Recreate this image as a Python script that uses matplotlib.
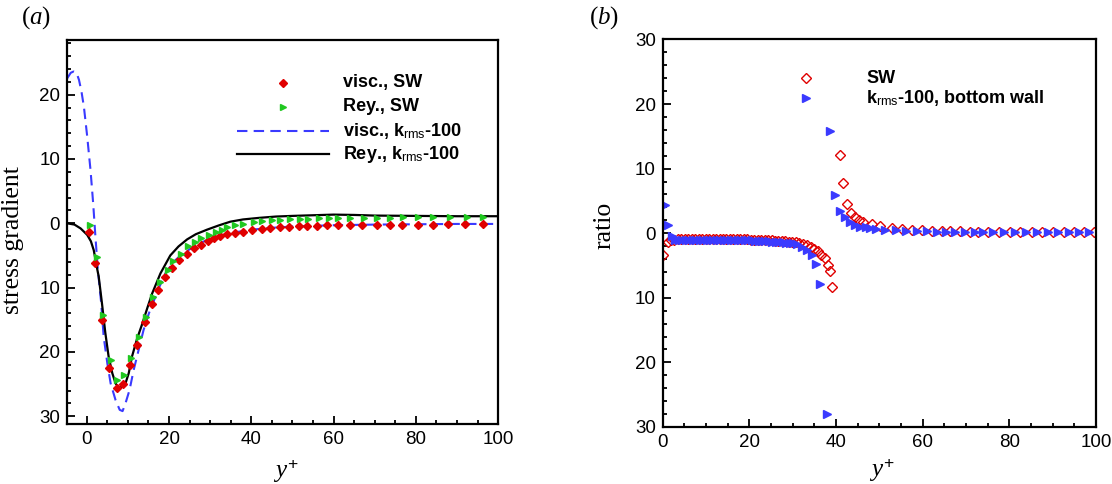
#!/usr/bin/env python3
import matplotlib
matplotlib.use("Agg")
import matplotlib.pyplot as plt
from matplotlib.ticker import MultipleLocator, FuncFormatter

plt.rcParams["font.family"] = ["Liberation Sans", "DejaVu Sans"]
plt.rcParams["mathtext.fontset"] = "custom"
plt.rcParams["mathtext.rm"] = "Liberation Sans"
plt.rcParams["mathtext.it"] = "Liberation Serif:italic"
plt.rcParams["mathtext.bf"] = "Liberation Sans:bold"

RED = "#e00000"
GREEN = "#20c820"
BLUE = "#3a3aff"

# ---- panel (a): stress gradient ----
visc_sw_x = [0.5, 1.9, 3.7, 5.5, 7.3, 8.8, 10.5, 12.3, 14.1, 15.8, 17.3, 19.1, 20.6,
             22.5, 24.3, 26.0, 27.7, 29.4, 31.0, 32.5, 34.1, 36.1, 38.1, 40.2, 42.6,
             44.6, 46.9, 49.1, 51.5, 53.5, 55.9, 58.4, 61.2, 64.0, 66.9, 70.5, 73.8,
             76.6, 80.6, 84.3, 87.9, 92.0, 96.4]
visc_sw_y = [-1.3, -6.2, -15.0, -22.5, -25.6, -25.0, -22.0, -18.9, -15.3, -12.6, -10.4,
             -8.3, -6.9, -5.7, -4.7, -3.9, -3.3, -2.75, -2.3, -2.0, -1.7, -1.5, -1.3,
             -1.05, -0.9, -0.75, -0.62, -0.52, -0.45, -0.4, -0.35, -0.32, -0.3, -0.28,
             -0.27, -0.26, -0.25, -0.24, -0.23, -0.2, -0.18, -0.15, -0.12]

rey_sw_x = [0.7, 2.4, 4.0, 5.8, 7.4, 9.0, 10.7, 12.6, 14.5, 16.0, 17.7, 19.7, 21.0,
            22.8, 24.5, 26.2, 27.8, 29.6, 31.3, 32.9, 34.1, 36.1, 38.1, 40.6, 42.6,
            45.0, 47.0, 49.5, 51.9, 53.9, 56.4, 58.8, 61.2, 64.1, 67.3, 70.5, 73.8,
            77.0, 80.6, 84.3, 88.3, 92.4, 96.4]
rey_sw_y = [-0.3, -5.2, -14.3, -21.3, -24.4, -23.6, -21.0, -17.6, -14.5, -11.5, -9.2,
            -7.3, -5.8, -4.7, -3.5, -2.9, -2.3, -1.8, -1.4, -1.0, -0.6, -0.3, -0.05,
            0.2, 0.35, 0.45, 0.55, 0.62, 0.68, 0.73, 0.78, 0.82, 0.86, 0.88, 0.9, 0.9,
            0.9, 0.92, 0.95, 0.97, 0.98, 1.0, 1.0]

visc_k_x = [-4.8, -3.9, -3.2, -2.5, -1.9, -1.3, -0.7, 0.1, 0.9, 1.55, 2.1, 2.7, 3.5,
            4.1, 5.0, 5.8, 7.0, 8.0, 8.7, 9.4, 10.4, 11.4, 12.6, 13.8, 15.1, 16.7,
            17.5, 19.1, 21.1, 22.8, 24.4, 26.5, 29.2, 32.0, 35.0, 40.0, 45.0, 50.0,
            55.0, 60.0, 70.0, 80.0, 90.0, 100.0]
visc_k_y = [22.5, 23.4, 23.6, 23.4, 22.3, 20.5, 18.1, 13.5, 8.3, 3.1, -2.1, -7.3,
            -12.4, -17.6, -21.8, -24.9, -27.5, -29.0, -29.2, -28.0, -25.9, -22.8,
            -19.7, -16.6, -14.0, -11.4, -10.1, -7.8, -6.0, -5.0, -4.3, -3.4, -2.6,
            -2.0, -1.5, -1.0, -0.7, -0.5, -0.4, -0.3, -0.2, -0.15, -0.1, -0.1]

rey_k_x = [-4.8, -3.0, -1.5, 0.1, 1.0, 1.7, 2.5, 2.9, 3.7, 4.5, 5.3, 6.2, 7.0, 7.6,
           8.2, 8.8, 9.4, 10.2, 11.0, 12.2, 13.5, 14.7, 15.9, 17.9, 20.3, 22.3, 24.4,
           26.5, 29.2, 32.0, 34.9, 38.0, 42.0, 46.0, 50.0, 55.0, 60.0, 65.0, 70.0,
           80.0, 90.0, 100.0]
rey_k_y = [0.0, -0.2, -0.8, -1.8, -2.8, -4.2, -7.0, -8.3, -12.5, -17.0, -20.7, -23.3,
           -24.9, -25.4, -25.5, -25.4, -24.9, -23.3, -20.7, -18.0, -15.6, -13.2,
           -10.9, -7.8, -5.0, -3.6, -2.5, -1.7, -1.0, -0.35, 0.25, 0.6, 0.85, 1.05,
           1.15, 1.25, 1.35, 1.3, 1.2, 1.15, 1.1, 1.1]

# ---- panel (b): ratio ----
ratio_sw_x = [0.0, 1.1, 1.9, 2.7, 3.5, 4.3, 5.1, 5.9, 6.7, 7.5, 8.3, 9.1, 9.9, 10.7,
              11.5, 12.3, 13.1, 13.9, 14.7, 15.5, 16.3, 17.1, 17.9, 18.7, 19.5, 20.3,
              21.1, 21.9, 22.7, 23.5, 24.3, 25.1, 25.9, 26.7, 27.5, 28.3, 29.1, 29.9,
              30.7, 31.5, 32.4, 33.3, 34.2, 35.0, 35.8, 36.6, 37.4, 38.1, 38.6, 39.0,
              40.8, 41.7, 42.6, 43.5, 44.4, 45.3, 46.3, 48.2, 50.2, 52.8, 55.2, 57.5,
              59.8, 62.1, 64.4, 66.3, 68.6, 70.9, 72.8, 75.1, 77.5, 80.2, 82.5, 85.2,
              87.5, 90.1, 92.5, 94.8, 97.2, 99.5]
ratio_sw_y = [-3.4, -1.3, -1.0, -1.0, -0.95, -0.95, -0.95, -0.95, -0.95, -0.95, -0.95,
              -0.95, -0.95, -0.95, -0.95, -0.95, -0.95, -0.95, -0.95, -0.95, -0.95,
              -0.95, -0.95, -0.95, -0.95, -1.0, -1.0, -1.0, -1.05, -1.05, -1.1, -1.1,
              -1.15, -1.2, -1.2, -1.25, -1.3, -1.35, -1.4, -1.45, -1.6, -1.8, -2.1,
              -2.4, -2.8, -3.3, -3.9, -4.9, -5.8, -8.4,
              12.1, 7.8, 4.5, 3.2, 2.5, 2.05, 1.8, 1.4, 1.1, 0.85, 0.7, 0.55, 0.45,
              0.4, 0.35, 0.3, 0.28, 0.25, 0.22, 0.2, 0.2, 0.18, 0.18, 0.15, 0.15, 0.15,
              0.15, 0.15, 0.15, 0.15]

ratio_k_x = [0.5, 1.3, 2.1, 2.9, 3.7, 4.5, 5.3, 6.1, 6.9, 7.7, 8.5, 9.3, 10.1, 10.9,
             11.7, 12.5, 13.3, 14.1, 14.9, 15.7, 16.5, 17.3, 18.1, 18.9, 19.7, 20.5,
             21.3, 22.1, 22.9, 23.7, 24.5, 25.3, 26.1, 26.9, 27.7, 28.5, 29.3, 30.1,
             30.9, 32.1, 33.2, 34.4, 35.4, 36.3, 38.0,
             38.6, 39.8, 40.8, 42.1, 43.2, 44.4, 45.5, 46.8, 47.9, 49.2, 51.4, 53.8,
             56.2, 58.6, 61.0, 63.3, 65.4, 67.5, 69.8, 72.0, 74.0, 76.3, 78.7, 81.3,
             83.8, 86.3, 88.8, 91.3, 93.7, 96.0, 98.3]
ratio_k_y = [4.3, 1.2, -0.5, -1.05, -1.05, -1.05, -1.05, -1.05, -1.05, -1.05, -1.05,
             -1.05, -1.05, -1.05, -1.05, -1.05, -1.05, -1.05, -1.05, -1.05, -1.05,
             -1.05, -1.05, -1.1, -1.1, -1.1, -1.15, -1.15, -1.2, -1.2, -1.25, -1.3,
             -1.3, -1.35, -1.4, -1.45, -1.5, -1.55, -1.65, -2.1, -2.6, -3.4, -4.7,
             -7.8, -28.0,
             15.9, 5.9, 3.5, 2.5, 1.8, 1.3, 1.0, 0.9, 0.8, 0.65, 0.55, 0.45, 0.38,
             0.32, 0.28, 0.25, 0.22, 0.2, 0.2, 0.2, 0.18, 0.18, 0.18, 0.18, 0.18,
             0.18, 0.18, 0.18, 0.18, 0.18, 0.18]

abs_fmt = FuncFormatter(lambda v, p: f"{abs(v):g}")


def style_axes(ax, xlim, ylim):
    ax.set_xlim(*xlim)
    ax.set_ylim(*ylim)
    ax.xaxis.set_major_locator(MultipleLocator(20))
    ax.xaxis.set_minor_locator(MultipleLocator(5))
    ax.yaxis.set_major_locator(MultipleLocator(10))
    ax.yaxis.set_minor_locator(MultipleLocator(2))
    ax.yaxis.set_major_formatter(abs_fmt)
    ax.tick_params(which="both", direction="in", top=False, right=False,
                   labelsize=13.5, width=1.3)
    ax.tick_params(which="major", length=6, pad=5)
    ax.tick_params(which="minor", length=3)
    for s in ax.spines.values():
        s.set_linewidth(1.6)


def draw_legend(ax, entries, x_handle, x_text, y0, dy, fontsize):
    # manual legend: (handle kwargs, label) rows, axes coordinates
    for i, (kw, label) in enumerate(entries):
        y = y0 - i * dy
        if kw.get("linestyle", "none") != "none":
            ax.plot(x_handle, [y, y], transform=ax.transAxes, clip_on=False, **kw)
        else:
            xm = 0.5 * (x_handle[0] + x_handle[1])
            ax.plot([xm], [y], transform=ax.transAxes, clip_on=False, **kw)
        ax.text(x_text, y, label, transform=ax.transAxes, fontsize=fontsize,
                fontweight="bold", va="center", ha="left")


fig = plt.figure(figsize=(11.12, 4.84), dpi=100)
ax1 = fig.add_axes([0.0603, 0.124, 0.3876, 0.7934])
ax2 = fig.add_axes([0.596, 0.1178, 0.3897, 0.8006])

# panel (a)
ax1.plot(visc_k_x, visc_k_y, color=BLUE, lw=1.5, linestyle=(0, (5, 3)))
ax1.plot(rey_k_x, rey_k_y, color="black", lw=1.6)
ax1.plot(visc_sw_x, visc_sw_y, linestyle="none", marker="D", ms=3.6,
         color=RED, mec=RED)
ax1.plot(rey_sw_x, rey_sw_y, linestyle="none", marker=">", ms=5.0,
         color=GREEN, mec=GREEN)
style_axes(ax1, (-4.8, 100), (-31.2, 28.5))
ax1.set_ylabel("stress gradient", family="Liberation Serif", fontsize=18.5)
ax1.yaxis.set_label_coords(-0.1, 0.48)
ax1.set_xlabel(r"$y^{\mathit{+}}$", fontsize=18)
ax1.xaxis.set_label_coords(0.508, -0.085)

draw_legend(ax1, [
    (dict(linestyle="none", marker="D", ms=3.6, color=RED), "visc., SW"),
    (dict(linestyle="none", marker=">", ms=5.0, color=GREEN), "Rey., SW"),
    (dict(linestyle=(0, (5, 3)), color=BLUE, lw=1.5), r"visc., k$_{\mathrm{rms}}$-100"),
    (dict(linestyle="-", color="black", lw=1.6), r"Rey., k$_{\mathrm{rms}}$-100"),
], x_handle=[0.394, 0.608], x_text=0.64, y0=0.888, dy=0.062, fontsize=13)

# panel (b)
ax2.plot(ratio_sw_x, ratio_sw_y, linestyle="none", marker="D", ms=5.0,
         mfc="none", mec=RED, mew=1.0)
ax2.plot(ratio_k_x, ratio_k_y, linestyle="none", marker=">", ms=5.5,
         color=BLUE, mec=BLUE)
style_axes(ax2, (0, 100), (-30, 30))
ax2.set_ylabel("ratio", family="Liberation Serif", fontsize=18.5)
ax2.yaxis.set_label_coords(-0.108, 0.52)
ax2.set_xlabel(r"$y^{\mathit{+}}$", fontsize=18)
ax2.xaxis.set_label_coords(0.506, -0.075)

draw_legend(ax2, [
    (dict(linestyle="none", marker="D", ms=5.0, mfc="none", mec=RED, mew=1.0), "SW"),
    (dict(linestyle="none", marker=">", ms=5.5, color=BLUE), r"k$_{\mathrm{rms}}$-100, bottom wall"),
], x_handle=[0.30, 0.36], x_text=0.47, y0=0.9, dy=0.052, fontsize=13)

fig.text(0.032, 0.963, r"($\mathit{a}$)", family="Liberation Serif", fontsize=18,
         ha="center", va="center")
fig.text(0.543, 0.963, r"($\mathit{b}$)", family="Liberation Serif", fontsize=18,
         ha="center", va="center")

fig.savefig("out.png", dpi=100)
